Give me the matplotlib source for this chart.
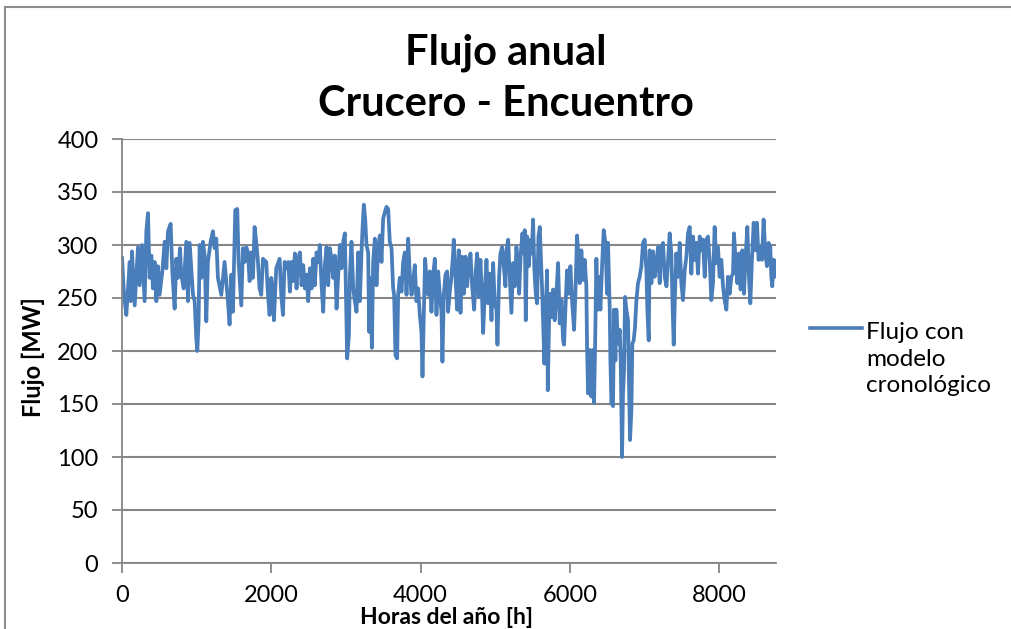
import matplotlib
matplotlib.use("Agg")
import matplotlib.pyplot as plt
from matplotlib.lines import Line2D

hours = [0, 27, 58, 103, 116, 134, 170, 214, 237, 268, 303, 326, 348, 370, 393, 415, 437, 460, 482, 504,
         540, 571, 594, 616, 652, 674, 705, 727, 750, 777, 794, 826, 861, 884, 906, 951, 973, 995, 1009, 1026,
         1040, 1062, 1084, 1107, 1129, 1151, 1187, 1218, 1241, 1263, 1285, 1330, 1374, 1419, 1441, 1464, 1486, 1517, 1544, 1562,
         1598, 1620, 1642, 1665, 1687, 1709, 1732, 1754, 1776, 1798, 1821, 1843, 1865, 1888, 1932, 1955, 1977, 1999, 2022, 2035,
         2066, 2111, 2133, 2156, 2178, 2200,
         2227, 2249, 2271, 2293, 2316, 2338, 2360, 2383, 2405, 2427, 2450, 2472, 2494, 2517, 2539, 2561, 2583, 2606, 2628, 2650,
         2673, 2695, 2717, 2740, 2762, 2784, 2807, 2829, 2851, 2874, 2896, 2918, 2940, 2963, 2985, 2998, 3016, 3039, 3052, 3074,
         3097, 3119, 3141, 3164, 3186, 3208, 3222, 3239, 3257, 3275, 3297, 3311, 3329, 3347, 3364, 3387, 3409, 3431, 3454, 3476,
         3498, 3521, 3543, 3565, 3587, 3610, 3632, 3645, 3663, 3685, 3699, 3721, 3744, 3766, 3788, 3811, 3833, 3855, 3878, 3900,
         3922, 3944, 3967, 3989, 4011, 4025, 4043, 4060, 4078, 4101, 4123, 4145, 4168, 4190, 4212, 4235, 4257, 4279, 4292, 4310,
         4333, 4355, 4368, 4391,
         4413, 4435, 4444, 4467, 4489, 4511, 4534, 4556, 4578, 4601, 4623, 4645, 4668, 4690, 4717, 4739, 4757, 4779, 4801, 4824,
         4837, 4859, 4882, 4904, 4926, 4949, 4971, 4993, 5016, 5029, 5051, 5069, 5091, 5114, 5136, 5149, 5172, 5194, 5216, 5239,
         5261, 5283, 5306, 5319, 5341, 5364, 5381, 5395, 5408, 5426, 5448, 5471, 5489, 5506, 5524, 5542, 5560, 5578, 5596, 5609,
         5627, 5645, 5658, 5676, 5694, 5703, 5721, 5738, 5756, 5774, 5796, 5819, 5841, 5863, 5886, 5908, 5921, 5939, 5961, 5984,
         6006, 6028, 6055, 6073, 6095, 6109, 6131, 6153, 6176, 6198, 6220, 6229, 6243, 6265, 6287, 6310, 6323, 6336, 6354, 6372,
         6390, 6408, 6430, 6452, 6475, 6497, 6510, 6533,
         6542, 6555, 6577, 6591, 6609, 6622, 6644, 6667, 6680, 6698, 6711, 6725, 6738, 6756, 6778, 6792, 6805, 6823, 6836, 6854,
         6872, 6890, 6912, 6934, 6957, 6979, 7001, 7024, 7037, 7055, 7068, 7091, 7113, 7135, 7158, 7180, 7202, 7224, 7247, 7269,
         7293, 7314, 7336, 7358, 7376, 7390, 7407, 7425, 7448, 7470, 7492, 7514, 7537, 7559, 7581, 7604, 7626, 7648, 7671, 7693,
         7715, 7738, 7760, 7782, 7805, 7827, 7849, 7871, 7894, 7916, 7938, 7961, 7983, 8005, 8028, 8050, 8072, 8095, 8117, 8139,
         8162, 8184, 8197, 8219, 8242, 8264, 8286, 8309, 8331, 8353, 8376, 8398, 8416, 8438, 8461, 8483, 8505, 8527, 8550, 8572,
         8594, 8617, 8639, 8661, 8684, 8697, 8710, 8728, 8742, 8760]

flujo = [288, 253, 234, 284, 247, 294, 243, 298, 262, 300, 247, 313, 330, 269, 290, 259, 284, 247, 280, 253,
         275, 303, 278, 313, 320, 275, 240, 287, 269, 297, 272, 259, 303, 247, 302, 253, 247, 212, 200, 228,
         300, 269, 303, 290, 228, 284, 303, 313, 297, 306, 269, 253, 284, 247, 225, 272, 237, 333, 334, 284,
         243, 297, 284, 298, 293, 266, 293, 269, 317, 303, 284, 259, 253, 287, 284, 253, 234, 269, 253, 229,
         278, 287, 253, 234, 284, 278,
         284, 256, 284, 266, 292, 259, 287, 293, 262, 281, 259, 272, 247, 278, 259, 287, 262, 293, 284, 300,
         262, 237, 281, 298, 262, 297, 287, 269, 290, 240, 272, 300, 278, 303, 311, 262, 193, 215, 272, 303,
         259, 247, 237, 293, 247, 293, 316, 338, 325, 300, 293, 218, 269, 203, 284, 306, 262, 297, 309, 284,
         325, 331, 336, 334, 303, 297, 259, 253, 196, 193, 253, 269, 256, 284, 293, 253, 306, 272, 253, 266,
         281, 247, 259, 234, 218, 176, 237, 287, 269, 253, 275, 237, 272, 287, 234, 275, 253, 237, 190, 253,
         272, 275, 237, 256,
         270, 292, 305, 270, 239, 295, 236, 289, 254, 289, 261, 283, 292, 261, 239, 276, 292, 251, 286, 248,
         217, 254, 286, 245, 273, 229, 283, 245, 239, 206, 270, 292, 298, 280, 261, 295, 305, 270, 236, 283,
         261, 298, 280, 254, 292, 311, 292, 314, 229, 308, 280, 305, 292, 324, 276, 254, 245, 308, 317, 292,
         258, 217, 188, 239, 276, 163, 230, 254, 232, 258, 229, 254, 283, 226, 248, 210, 206, 239, 276, 254,
         280, 248, 220, 254, 309, 295, 264, 295, 267, 286, 261, 204, 160, 201, 157, 201, 151, 201, 287, 239,
         270, 239, 280, 314, 302, 254, 302, 239,
         191, 151, 148, 239, 191, 239, 207, 220, 191, 100, 160, 182, 251, 239, 229, 166, 116, 144, 207, 210,
         223, 248, 264, 270, 280, 302, 305, 276, 239, 210, 295, 264, 294, 270, 283, 298, 264, 298, 302, 270,
         261, 286, 311, 292, 239, 206, 254, 292, 270, 302, 264, 248, 276, 289, 311, 317, 273, 308, 286, 302,
         273, 308, 295, 305, 270, 305, 308, 286, 248, 264, 317, 283, 298, 270, 286, 261, 248, 239, 270, 254,
         270, 273, 311, 286, 264, 292, 258, 295, 254, 289, 317, 270, 245, 286, 321, 295, 321, 286, 298, 286,
         324, 292, 280, 302, 298, 270, 261, 286, 270, 285]

title = "Flujo anual\nCrucero - Encuentro"
x_label = "Horas del año [h]"
y_label = "Flujo [MW]"
legend_label = "Flujo con\nmodelo\ncronológico"
x_ticks = [0, 2000, 4000, 6000, 8000]
y_ticks = [0, 50, 100, 150, 200, 250, 300, 350, 400]

FONT = ["Lato", "DejaVu Sans"]
plt.rcParams["font.family"] = FONT
GRID = "#868686"
LINE = "#4A7EBB"
W, H = 1012, 629

fig = plt.figure(figsize=(W / 100, H / 100), dpi=100)
# chart-area border (top and left visible, others clipped off)
fig.add_artist(Line2D([5 / W, 1.0], [1 - 7 / H] * 2, color="#8c8c8c", lw=1.5))
fig.add_artist(Line2D([5 / W] * 2, [0.0, 1 - 7 / H], color="#8c8c8c", lw=1.5))

ax = fig.add_axes([122 / W, 1 - 563 / H, 654 / W, 424 / H])
ax.plot(hours, flujo, color=LINE, linewidth=2.7, solid_joinstyle="round")
ax.set_xlim(0, 8760)
ax.set_ylim(0, 400)
ax.set_xticks(x_ticks)
ax.set_yticks(y_ticks)
ax.yaxis.grid(True, color=GRID, linewidth=1.5)
ax.set_axisbelow(True)
for s in ["top", "right"]:
    ax.spines[s].set_visible(False)
for s in ["left", "bottom"]:
    ax.spines[s].set_color(GRID)
    ax.spines[s].set_linewidth(1.3)
ax.tick_params(axis="both", direction="out", length=7, width=1.3, color=GRID,
               labelsize=17, labelcolor="black")
ax.tick_params(axis="y", pad=10)
ax.tick_params(axis="x", pad=9)

# axis titles
fig.text(447 / W, 1 - 624 / H, x_label, ha="center", va="baseline",
         fontsize=16.5, fontweight="bold")
fig.text(33 / W, 1 - 357 / H, y_label, ha="center", va="center", rotation=90,
         fontsize=17, fontweight="bold")

# chart title
for line, base in zip(title.split("\n"), [65, 116]):
    fig.text(506 / W, 1 - base / H, line, ha="center", va="baseline",
             fontsize=30, fontweight="bold")

# legend
fig.add_artist(Line2D([810 / W, 862 / W], [1 - 328 / H] * 2, color=LINE, lw=2.6))
fig.text(866 / W, 1 - 359 / H, legend_label, ha="left", va="center",
         fontsize=17.5, linespacing=1.3)

fig.savefig("out.png", dpi=100)
